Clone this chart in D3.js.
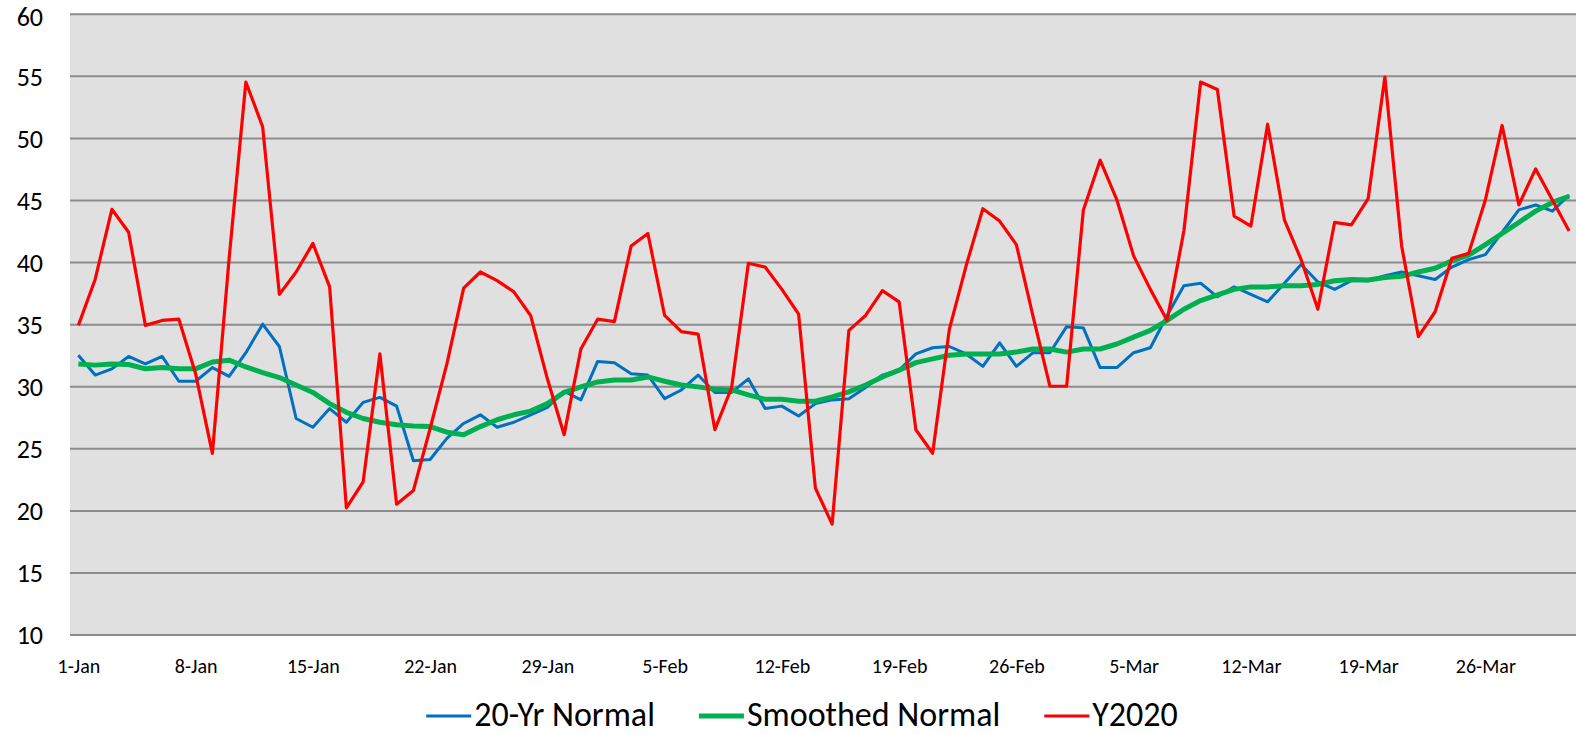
<!DOCTYPE html>
<html>
<head>
<meta charset="utf-8">
<script src="https://cdn.jsdelivr.net/npm/d3@7"></script>
<style>
  html, body { margin: 0; padding: 0; background: #ffffff; }
  svg { display: block; }
  text { font-family: Carlito, Lato, "Liberation Sans", sans-serif; fill: #000; }
</style>
</head>
<body>
<svg id="chart" width="1576" height="734"></svg>
<script>
// ---------------- DATA ----------------
const seriesNames = ["20-Yr Normal", "Smoothed Normal", "Y2020"];
const seriesColors = ["#0070C0", "#00B050", "#FF0000"];

// 90 daily categories, 1-Jan .. 31-Mar (no 29-Feb)
const categories = d3.timeDay.range(new Date(2019, 0, 1), new Date(2019, 3, 1)).map(d3.timeFormat("%-d-%b"));

const tickLabels = ["1-Jan","8-Jan","15-Jan","22-Jan","29-Jan","5-Feb","12-Feb","19-Feb","26-Feb","5-Mar","12-Mar","19-Mar","26-Mar"];
const yTicks = [10, 15, 20, 25, 30, 35, 40, 45, 50, 55, 60];

const normal20 = [
  32.5, 30.9, 31.4, 32.4, 31.8, 32.4, 30.4, 30.4, 31.5, 30.8,
  32.7, 35.0, 33.2, 27.4, 26.7, 28.2, 27.1, 28.7, 29.1, 28.4,
  24.0, 24.1, 25.8, 27.0, 27.7, 26.7, 27.1, 27.7, 28.3, 29.6,
  28.9, 32.0, 31.9, 31.0, 30.9, 29.0, 29.7, 30.9, 29.5, 29.5,
  30.6, 28.2, 28.4, 27.6, 28.6, 28.9, 29.0, 29.9, 30.9, 31.3,
  32.6, 33.1, 33.2, 32.6, 31.6, 33.5, 31.6, 32.7, 32.7, 34.8,
  34.7, 31.5, 31.5, 32.7, 33.1, 35.7, 38.1, 38.3, 37.2, 38.0,
  37.4, 36.8, 38.3, 39.8, 38.4, 37.8, 38.5, 38.5, 38.9, 39.2,
  38.9, 38.6, 39.6, 40.2, 40.6, 42.4, 44.2, 44.6, 44.1, 45.4
];

const smoothed = [
  31.8, 31.7, 31.8, 31.75, 31.4, 31.5, 31.4, 31.4, 31.95, 32.1,
  31.55, 31.1, 30.7, 30.1, 29.5, 28.6, 27.9, 27.4, 27.1, 26.9,
  26.8, 26.75, 26.3, 26.1, 26.75, 27.3, 27.7, 28.0, 28.6, 29.5,
  29.95, 30.35, 30.5, 30.5, 30.75, 30.4, 30.1, 29.95, 29.75, 29.7,
  29.3, 28.95, 28.95, 28.8, 28.8, 29.15, 29.55, 30.1, 30.75, 31.3,
  31.9, 32.2, 32.5, 32.6, 32.6, 32.6, 32.75, 33.0, 33.0, 32.75,
  33.0, 33.0, 33.4, 33.95, 34.5, 35.3, 36.2, 36.9, 37.35, 37.8,
  38.0, 38.0, 38.1, 38.1, 38.2, 38.5, 38.6, 38.55, 38.75, 38.85,
  39.2, 39.5, 40.1, 40.55, 41.4, 42.3, 43.2, 44.1, 44.8, 45.3
];

const y2020 = [
  34.9, 38.6, 44.25, 42.4, 34.9, 35.3, 35.4, 31.0, 24.6, 40.3,
  54.5, 50.9, 37.4, 39.2, 41.5, 38.0, 20.2, 22.3, 32.6, 20.5,
  21.6, 26.6, 31.8, 37.9, 39.2, 38.5, 37.6, 35.7, 30.6, 26.1,
  33.0, 35.4, 35.2, 41.3, 42.3, 35.7, 34.4, 34.2, 26.5, 29.9,
  39.9, 39.6, 37.8, 35.8, 21.8, 18.9, 34.5, 35.7, 37.7, 36.8,
  26.5, 24.6, 34.6, 39.7, 44.3, 43.3, 41.4, 35.6, 30.0, 30.0,
  44.2, 48.2, 45.0, 40.5, 37.8, 35.3, 42.5, 54.5, 53.9, 43.7,
  42.9, 51.1, 43.4, 40.2, 36.2, 43.2, 43.0, 45.1, 54.9, 41.3,
  34.0, 36.0, 40.3, 40.7, 45.0, 51.0, 44.6, 47.5, 45.0, 42.5
];

const seriesValues = [normal20, smoothed, y2020];
const seriesWidths = [3, 5, 3.2];

// ---------------- LAYOUT ----------------
const plot = { left: 70, right: 1577.5, top: 13.7, bottom: 634.6 };

const svg = d3.select("#chart");

const x = d3.scalePoint()
  .domain(categories)
  .range([plot.left, plot.right])
  .padding(0.5);

const y = d3.scaleLinear()
  .domain([10, 60])
  .range([plot.bottom, plot.top]);

// plot background
svg.append("rect")
  .attr("x", plot.left).attr("y", plot.top)
  .attr("width", plot.right - plot.left)
  .attr("height", plot.bottom - plot.top)
  .attr("fill", "#E0E0E0");

// y axis with gridlines
const yAxis = d3.axisLeft(y)
  .tickValues(yTicks)
  .tickSize(-(plot.right - plot.left))
  .tickFormat(d3.format("d"));

const gy = svg.append("g")
  .attr("transform", `translate(${plot.left},0)`)
  .call(yAxis);
gy.select(".domain").remove();
gy.selectAll(".tick line").attr("stroke", "#8C8C8C").attr("stroke-width", 2);
gy.selectAll(".tick text")
  .attr("x", 43 - plot.left)
  .attr("text-anchor", "end")
  .attr("dy", "0.36em")
  .style("font-size", "26px");

// keep the top label's box inside the picture
gy.selectAll(".tick text").each(function () {
  const bb = this.getBBox();
  const tr = this.parentNode.transform.baseVal.consolidate();
  const ty = tr ? tr.matrix.f : 0;
  const top = ty + bb.y;
  if (top < 0) d3.select(this).attr("y", -top + 0.5);
});

// x axis labels
const xAxis = d3.axisBottom(x)
  .tickValues(tickLabels)
  .tickSize(0)
  .tickPadding(0);

const gx = svg.append("g")
  .attr("transform", `translate(0,${plot.bottom})`)
  .call(xAxis);
gx.select(".domain").remove();
gx.selectAll(".tick text")
  .attr("y", 31)
  .attr("dy", "0.36em")
  .style("font-size", "20px");

// series lines
const line = d3.line()
  .x((d, i) => x(categories[i]))
  .y(d => y(d));

seriesValues.forEach((vals, k) => {
  svg.append("path")
    .datum(vals)
    .attr("fill", "none")
    .attr("stroke", seriesColors[k])
    .attr("stroke-width", seriesWidths[k])
    .attr("stroke-linejoin", "round")
    .attr("stroke-linecap", "butt")
    .attr("d", line);
});

// legend
const legend = svg.append("g");
const legendMid = 716, legendBase = 726;
const lineLen = 45, gapAfterLine = 3, gapBetween = 44;
let cx = 0;
seriesNames.forEach((name, k) => {
  const g = legend.append("g");
  g.append("line")
    .attr("x1", cx).attr("x2", cx + lineLen)
    .attr("y1", legendMid).attr("y2", legendMid)
    .attr("stroke", seriesColors[k])
    .attr("stroke-width", seriesWidths[k]);
  const t = g.append("text")
    .attr("x", cx + lineLen + gapAfterLine)
    .attr("y", legendBase)
    .style("font-size", "34px")
    .text(name);
  const w = t.node().getComputedTextLength();
  cx += lineLen + gapAfterLine + w + gapBetween;
});
const totalW = cx - gapBetween;
legend.attr("transform", `translate(${802 - totalW / 2},0)`);
</script>
</body>
</html>
